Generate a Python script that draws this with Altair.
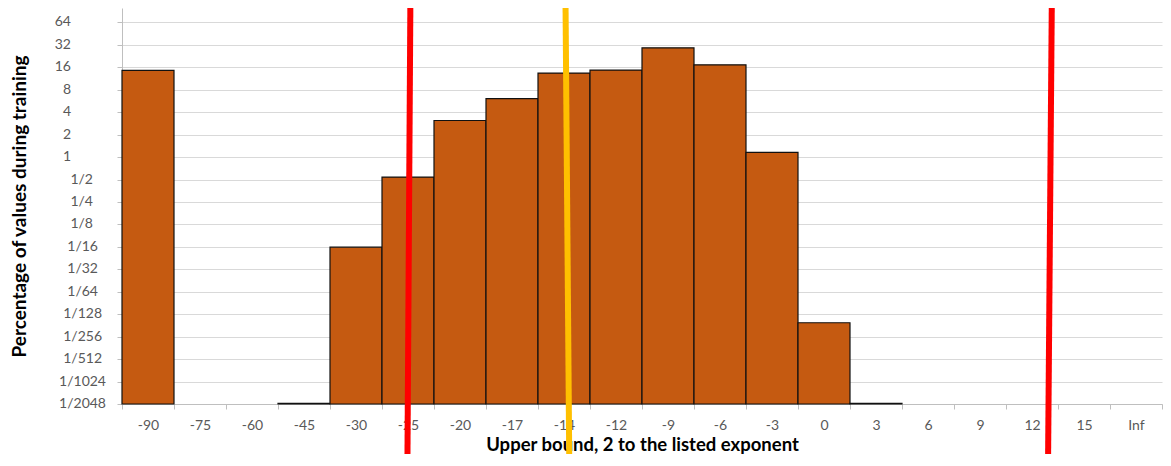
import altair as alt
import pandas as pd

# ---- data ----
categories = ["-90", "-75", "-60", "-45", "-30", "-25", "-20", "-17", "-14", "-12",
              "-9", "-6", "-3", "0", "3", "6", "9", "12", "15", "Inf"]
percent = [14.6, 0, 0, 0.0005, 0.062, 0.54, 3.1, 6.1, 13.4, 14.7,
           29.2, 17.3, 1.16, 0.006, 0.0005, 0, 0, 0, 0, 0]

y_tick_values = [64, 32, 16, 8, 4, 2, 1, 1/2, 1/4, 1/8, 1/16, 1/32, 1/64,
                 1/128, 1/256, 1/512, 1/1024, 1/2048]
y_tick_labels = ["64", "32", "16", "8", "4", "2", "1", "1/2", "1/4", "1/8", "1/16",
                 "1/32", "1/64", "1/128", "1/256", "1/512", "1/1024", "1/2048"]
y_floor = 1 / 2048
y_ceiling = 100

# annotation lines, in category units (0 = left edge of "-90", 20 = right edge of "Inf")
line_top = [5.545, 8.53, 17.88]
line_bottom = [5.49, 8.60, 17.81]
line_color = ["#FF0000", "#FFC000", "#FF0000"]

# ---- layout / style ----
W, H = 1040, 396
PAD = {"left": 114, "top": 0, "right": 1, "bottom": 50}
FONT = "Lato"
LABEL_COLOR = "#595959"
# Excel "# ?/????" number format: right edge of the label text (px left of the axis)
LABEL_SHIFT = {"int": -51, "d1": -29, "d2": -24, "d3": -20, "d4": -16}

bars = pd.DataFrame({"category": categories, "percent": percent})
bars = bars[bars["percent"] > 0].copy()
bars["base"] = y_floor

lines = pd.DataFrame({"top": line_top, "bottom": line_bottom, "color": line_color})

ylab = pd.DataFrame({"value": y_tick_values, "label": y_tick_labels})
ylab["group"] = ["int" if "/" not in s else "d%d" % len(s.split("/")[1]) for s in y_tick_labels]

y_scale = alt.Scale(type="log", base=2, domain=[y_floor, y_ceiling], nice=False)
y_axis = alt.Axis(title="Percentage of values during training",
                  values=y_tick_values, labels=False,
                  grid=True, gridColor="#D9D9D9", gridWidth=1,
                  ticks=True, tickSize=5, tickColor="#BFBFBF",
                  domainColor="#BFBFBF",
                  titleFont=FONT, titleFontSize=19, titleFontWeight="bold",
                  titleColor="#000000", titleX=-103, titleY=H / 2,
                  titleBaseline="middle", titleAlign="center", titleAngle=270)

bar_layer = alt.Chart(bars).mark_bar(
    color="#C55A11", stroke="#111111", strokeWidth=1.2
).encode(
    x=alt.X("category:N", sort=categories,
            scale=alt.Scale(domain=categories, paddingInner=0, paddingOuter=0),
            axis=alt.Axis(title="Upper bound, 2 to the listed exponent",
                          labelAngle=0, tickBand="extent", grid=False,
                          ticks=True, tickSize=5, tickColor="#BFBFBF",
                          domainColor="#BFBFBF", labelPadding=9,
                          labelFont=FONT, labelFontSize=14, labelColor=LABEL_COLOR,
                          titleFont=FONT, titleFontSize=18.5, titleFontWeight="bold",
                          titleColor="#000000", titleY=40, titleBaseline="middle")),
    y=alt.Y("percent:Q", scale=y_scale, axis=y_axis),
    y2="base:Q",
)

label_layers = [
    alt.Chart(ylab).transform_filter(alt.datum.group == g).mark_text(
        align="right", baseline="middle", dx=dx, font=FONT, fontSize=14, color=LABEL_COLOR
    ).encode(
        x=alt.value(0),
        y=alt.Y("value:Q", scale=y_scale, axis=y_axis),
        text="label:N",
    )
    for g, dx in LABEL_SHIFT.items()
]

rule_layer = alt.Chart(lines).mark_rule(strokeWidth=6).encode(
    x=alt.X("top:Q", scale=alt.Scale(domain=[0, 20], nice=False, zero=False), axis=None),
    x2="bottom:Q",
    y=alt.value(0),
    y2=alt.value(H + PAD["bottom"]),
    color=alt.Color("color:N", scale=None),
)

chart = alt.layer(bar_layer, *label_layers, rule_layer).resolve_scale(x="independent").properties(
    width=W, height=H, padding=PAD, autosize="none", background="white"
).configure_view(stroke=None)

chart.save("out.html", embed_options={"renderer": "svg", "actions": False})
